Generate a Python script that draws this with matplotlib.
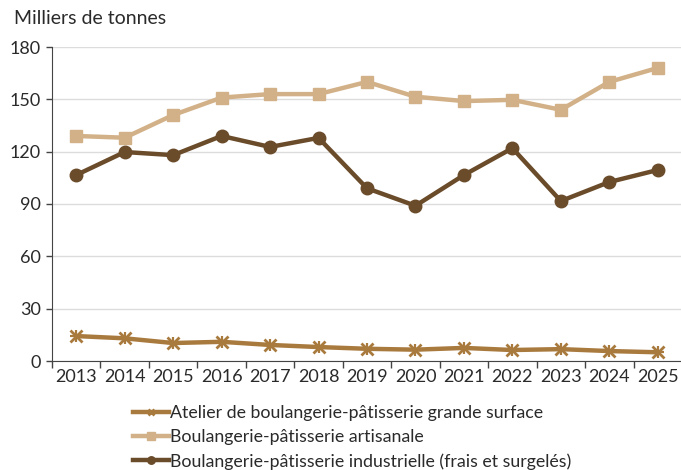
import numpy as np
import matplotlib.pyplot as plt

plt.rcParams['font.family'] = ['Lato', 'DejaVu Sans']

# Données (milliers de tonnes)
annees = ["2013", "2014", "2015", "2016", "2017", "2018", "2019",
          "2020", "2021", "2022", "2023", "2024", "2025"]
grande_surface = [14.3, 13.0, 10.3, 11.0, 9.2, 8.0, 7.0, 6.5, 7.5, 6.3, 6.8, 5.7, 5.0]
artisanale = [129, 128, 141, 151, 153, 153, 160, 151.5, 149, 149.7, 144, 160, 168]
industrielle = [106.6, 119.8, 118, 129, 122.7, 127.9, 99, 89, 106.6, 122, 91.7, 102.6, 109.5]

labels = ["Atelier de boulangerie-pâtisserie grande surface",
          "Boulangerie-pâtisserie artisanale",
          "Boulangerie-pâtisserie industrielle (frais et surgelés)"]
couleurs = ["#A97A3E", "#D2B188", "#6A4B2A"]

fig = plt.figure(figsize=(6.81, 4.70), dpi=100)
ax = fig.add_axes([52/681, 109/470, 630/681, 314/470])

x = np.arange(len(annees))
ax.plot(x, grande_surface, color=couleurs[0], lw=3.2, marker='x', ms=8, mew=2,
        label=labels[0])
ax.plot(x, grande_surface, color=couleurs[0], lw=0, marker='+', ms=9, mew=1.6)
ax.plot(x, artisanale, color=couleurs[1], lw=3.2, marker='s', ms=9,
        label=labels[1])
ax.plot(x, industrielle, color=couleurs[2], lw=3.2, marker='o', ms=9,
        label=labels[2])

ax.set_xlim(-0.5, len(annees) - 0.5)
ax.set_ylim(0, 180)
ax.set_yticks(range(0, 181, 30))
ax.set_xticks(x)
ax.set_xticklabels(annees)
ax.set_xticks(np.arange(-0.5, len(annees), 1), minor=True)
ax.tick_params(axis='x', which='major', length=0, pad=6, labelsize=13, colors='#2a2a2a')
ax.tick_params(axis='x', which='minor', length=5, width=1, color='#444444', direction='out')
ax.tick_params(axis='y', length=4, width=1, color='#444444', labelsize=13, colors='#2a2a2a', pad=4)

ax.grid(axis='y', color='#dcdcdc', lw=1)
ax.set_axisbelow(True)
for s in ['top', 'right']:
    ax.spines[s].set_visible(False)
ax.spines['left'].set_color('#444444')
ax.spines['bottom'].set_color('#444444')

fig.text(14/681, 1 - 19/470, "Milliers de tonnes", fontsize=14, color='#2a2a2a', va='center')

leg = fig.legend(loc='upper left', bbox_to_anchor=(126/681, 1 - 398/470), frameon=False,
                 fontsize=12.8, handlelength=2.0, handletextpad=0.05, labelspacing=0.45,
                 borderaxespad=0, markerscale=0.6)
for t in leg.get_texts():
    t.set_color('#2a2a2a')

fig.savefig("out.png", dpi=100)
